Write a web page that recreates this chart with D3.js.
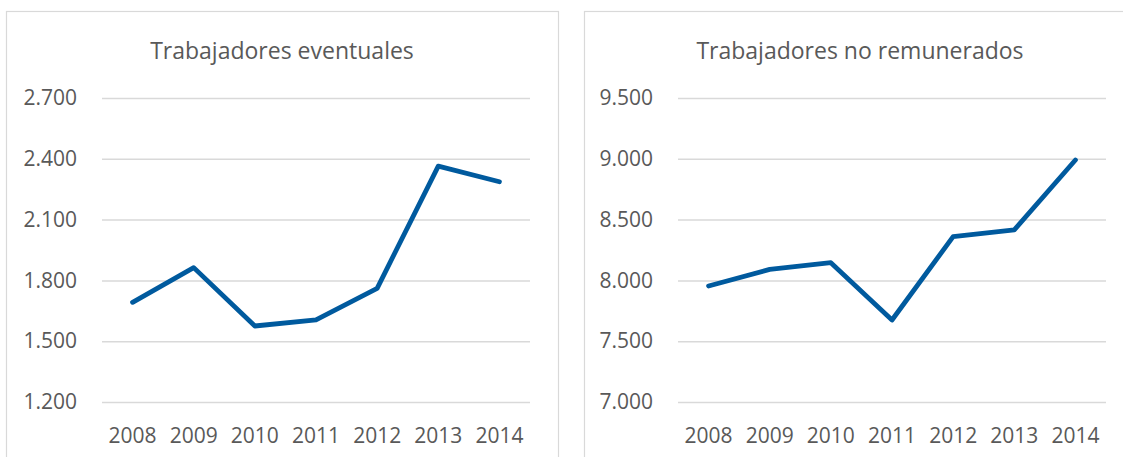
<!DOCTYPE html>
<html>
<head>
<meta charset="utf-8">
<script src="https://cdn.jsdelivr.net/npm/d3@7"></script>
<style>
  body { margin: 0; background: #fff; }
  svg text { font-family: "Open Sans", "Noto Sans", sans-serif; fill: #595959; }
  .axis .domain { display: none; }
  .y-axis line { stroke: #d9d9d9; stroke-width: 1.5; }
</style>
</head>
<body>
<div id="chart"></div>
<script>
// data
var years = ["2008", "2009", "2010", "2011", "2012", "2013", "2014"];
var eventuales = [1692, 1863, 1575, 1605, 1761, 2364, 2287];
var noRemunerados = [7954, 8091, 8146, 7674, 8360, 8415, 8990];
var eventualesTicks = [1200, 1500, 1800, 2100, 2400, 2700];
var noRemuneradosTicks = [7000, 7500, 8000, 8500, 9000, 9500];

var W = 1123, H = 457;

var svg = d3.select("#chart").append("svg")
  .attr("width", W)
  .attr("height", H);

// spanish number format: 2.700
var esFormat = d3.formatLocale({ decimal: ",", thousands: ".", grouping: [3], currency: ["", "€"] }).format(",.0f");

function drawPanel(opts) {
  var g = svg.append("g")
    .attr("transform", "translate(" + opts.left + ",11.5)");

  // panel frame
  g.append("rect")
    .attr("x", 0.5)
    .attr("y", 0)
    .attr("width", opts.panelWidth)
    .attr("height", 460)
    .attr("fill", "none")
    .attr("stroke", "#d9d9d9")
    .attr("stroke-width", 1.2);

  g.append("text")
    .attr("x", opts.panelWidth / 2)
    .attr("y", 47)
    .attr("text-anchor", "middle")
    .style("font-size", "23px")
    .text(opts.title);

  var plot = g.append("g")
    .attr("transform", "translate(" + opts.plotX + ",0)");

  var x = d3.scaleBand()
    .domain(years)
    .range([0, 428])
    .padding(0);

  var y = d3.scaleLinear()
    .domain(d3.extent(opts.ticks))
    .range([390.5, 86.5]);

  plot.append("g")
    .attr("class", "y-axis axis")
    .call(d3.axisLeft(y)
      .tickValues(opts.ticks)
      .tickSize(-428)
      .tickPadding(25)
      .tickFormat(esFormat))
    .selectAll("text")
    .style("font-size", "21px");

  plot.append("g")
    .attr("class", "x-axis axis")
    .attr("transform", "translate(0,412)")
    .call(d3.axisBottom(x).tickSize(0).tickPadding(5))
    .selectAll("text")
    .style("font-size", "21px");

  var line = d3.line()
    .x(function(d, i) { return x(years[i]) + x.bandwidth() / 2; })
    .y(function(d) { return y(d); });

  plot.append("path")
    .datum(opts.values)
    .attr("fill", "none")
    .attr("stroke", "#005A9E")
    .attr("stroke-width", 4.8)
    .attr("stroke-linejoin", "round")
    .attr("stroke-linecap", "round")
    .attr("d", line);
}

drawPanel({
  left: 6,
  panelWidth: 552,
  plotX: 96,
  title: "Trabajadores eventuales",
  values: eventuales,
  ticks: eventualesTicks
});

drawPanel({
  left: 584,
  panelWidth: 552,
  plotX: 94,
  title: "Trabajadores no remunerados",
  values: noRemunerados,
  ticks: noRemuneradosTicks
});
</script>
</body>
</html>
